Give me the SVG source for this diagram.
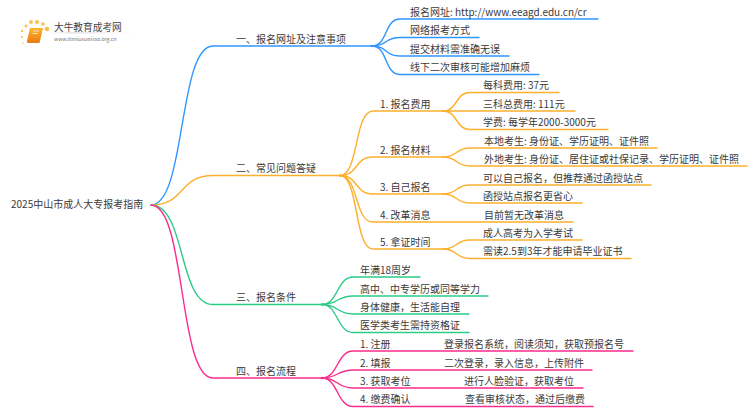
<svg xmlns="http://www.w3.org/2000/svg" width="750" height="410" viewBox="0 0 750 410">
<style>
text{font-family:"Noto Sans CJK SC","Noto Sans",sans-serif;font-size:10px;fill:#3a3a3a}
.c path{fill:none;stroke-width:1.4;stroke-linecap:round}
.b path{stroke:#2f96ff}.o path{stroke:#fdb02e}.g path{stroke:#2ccb86}.p path{stroke:#fb2a8c}
.o circle{fill:#fdb02e}.b circle{fill:#2f96ff}.g circle{fill:#2ccb86}.p circle{fill:#fb2a8c}
</style>
<defs><linearGradient id="fade"><stop offset="0" stop-color="#ccc" stop-opacity="0"/><stop offset=".3" stop-color="#ccc"/><stop offset="1" stop-color="#ccc" stop-opacity="0"/></linearGradient>
<linearGradient id="bk" x1="0" y1="0" x2="0" y2="1"><stop offset="0" stop-color="#fbb62c"/><stop offset="1" stop-color="#ee7f16"/></linearGradient></defs>
<g id="connectors" class="c">
<g class="b"><path d="M151 205C186 205 178 46 213 46H372"/>
<path d="M372 46C388 46 384 19 400 19H598"/><path d="M372 46C388 46 384 37.500 400 37.500H479"/><path d="M372 46C388 46 384 56 400 56H509"/><path d="M372 46C388 46 384 74.500 400 74.500H539"/><circle cx="372" cy="46" r="1.300"/></g>
<g class="o"><path d="M151 205C186 205 178 175.500 213 175.500H340"/>
<path d="M340 175.500C359 175.500 354 111 373 111H443"/><path d="M340 175.500C359 175.500 354 157 373 157H443"/><path d="M340 175.500C359 175.500 354 194 373 194H443"/><path d="M340 175.500C359 175.500 354 222 373 222H573"/><path d="M340 175.500C359 175.500 354 249 373 249H443"/><circle cx="340" cy="175.500" r="1.300"/>
<path d="M443 111C458 111 455 92.500 470 92.500H559"/><path d="M443 111H575"/><path d="M443 111C458 111 455 129.500 470 129.500H608"/>
<path d="M443 157C458 157 455 148 470 148H657"/><path d="M443 157C458 157 455 166 470 166H747"/>
<path d="M443 194C458 194 455 185 470 185H651"/><path d="M443 194C458 194 455 203 470 203H582"/>
<path d="M443 249C458 249 455 240 470 240H582"/><path d="M443 249C458 249 455 258.500 470 258.500H631"/></g>
<g class="g"><path d="M151 205C186 205 178 304.500 213 304.500H322"/>
<path d="M322 304.500C338 304.500 337 277 353 277H420"/><path d="M322 304.500C338 304.500 337 296 353 296H488"/><path d="M322 304.500C338 304.500 337 314 353 314H469"/><path d="M322 304.500C338 304.500 337 332.500 353 332.500H469"/><circle cx="322" cy="304.500" r="1.300"/></g>
<g class="p"><path d="M151 205C186 205 178 378 213 378H322"/>
<path d="M322 378C338 378 337 351 353 351H633"/><path d="M322 378C338 378 337 370 353 370H592"/><path d="M322 378C338 378 337 388 353 388H583"/><path d="M322 378C338 378 337 406.500 353 406.500H593"/><circle cx="322" cy="378" r="1.300"/></g>
</g>
<g id="logo">
<g fill="#fbc04a"><circle cx="47" cy="29" r="2.300"/><circle cx="43" cy="24" r="1.800"/><circle cx="37" cy="22" r="2"/><circle cx="31" cy="22" r="1.900"/><circle cx="26" cy="26" r="1.500"/><circle cx="22" cy="31" r="1.200"/><circle cx="22" cy="37" r="1"/><circle cx="23" cy="43" r=".8"/></g>
<path d="M30 28H43L40 41H27Z" fill="url(#bk)"/><path d="M27 41H40L39.500 43H28Q26 42.500 27 41Z" fill="#e8801c"/><path d="M33 31H39M32.500 33.500H38" stroke="#fff" stroke-width=".7"/>
<rect x="46" y="32.500" width="88" height=".8" fill="url(#fade)"/>
<text x="54" y="31" style="font-size:9.700px;fill:#444">大牛教育成考网</text>
<text x="54" y="41" style="font-size:5.200px;fill:#777">www.daniuxuexiao.org.cn</text>
</g>
<g id="root"><text x="11" y="208">2025中山市成人大专报考指南</text></g>
<g id="n1"><text x="236" y="43">一、报名网址及注意事项</text>
<text x="410" y="15.500">报名网址: http://www.eeagd.edu.cn/cr</text><text x="410" y="34">网络报考方式</text><text x="410" y="52.500">提交材料需准确无误</text><text x="410" y="71">线下二次审核可能增加麻烦</text></g>
<g id="n2"><text x="236" y="172">二、常见问题答疑</text>
<text x="380" y="107.500">1. 报名费用</text><text x="483" y="89">每科费用: 37元</text><text x="483" y="107.500">三科总费用: 111元</text><text x="483" y="126">学费: 每学年2000-3000元</text>
<text x="380" y="153.500">2. 报名材料</text><text x="484" y="144.500">本地考生: 身份证、学历证明、证件照</text><text x="484" y="162.500">外地考生: 身份证、居住证或社保记录、学历证明、证件照</text>
<text x="380" y="190.500">3. 自己报名</text><text x="483" y="181.500">可以自己报名，但推荐通过函授站点</text><text x="483" y="199.500">函授站点报名更省心</text>
<text x="380" y="218.500">4. 改革消息</text><text x="484" y="218.500">目前暂无改革消息</text>
<text x="380" y="245.500">5. 拿证时间</text><text x="483" y="236.500">成人高考为入学考试</text><text x="483" y="255">需读2.5到3年才能申请毕业证书</text></g>
<g id="n3"><text x="236" y="301">三、报名条件</text>
<text x="360" y="273.500">年满18周岁</text><text x="360" y="292.500">高中、中专学历或同等学力</text><text x="360" y="310.500">身体健康，生活能自理</text><text x="360" y="329">医学类考生需持资格证</text></g>
<g id="n4"><text x="236" y="374.500">四、报名流程</text>
<text x="360" y="347.500">1. 注册</text><text x="444" y="347.500">登录报名系统，阅读须知，获取预报名号</text>
<text x="360" y="366.500">2. 填报</text><text x="444" y="366.500">二次登录，录入信息，上传附件</text>
<text x="360" y="384.500">3. 获取考位</text><text x="464" y="384.500">进行人脸验证，获取考位</text>
<text x="360" y="403">4. 缴费确认</text><text x="465" y="403">查看审核状态，通过后缴费</text></g>
</svg>
